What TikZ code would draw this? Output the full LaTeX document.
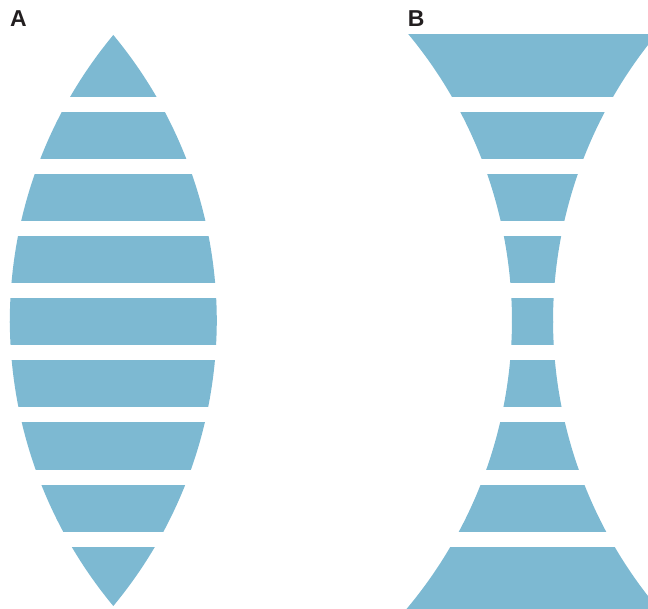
\documentclass[tikz,border=0pt]{standalone}
\usepackage{fontspec}
\setsansfont{Liberation Sans}
\usepackage{tikz}
\usepackage{xcolor}
\definecolor{lensblue}{RGB}{125,185,210}
\definecolor{labelgray}{RGB}{35,31,32}

\begin{document}
\begin{tikzpicture}[x=1pt,y=-1pt,
panel/.style={font=\sffamily\bfseries\fontsize{23}{23}\selectfont,text=labelgray,inner sep=0pt,anchor=base west},
band/.style={fill=lensblue}
]
\useasboundingbox (0,0) rectangle (648,609);
\clip (0,0) rectangle (648,609);
\node[panel] (labelA) at (10,26.7) {A};
\node[panel] (labelB) at (407.6,26.7) {B};
% A: convex lens, B: concave lens, both cut into bands (upper and lower half)
\foreach \ytop/\ybot in {35/97,113/159,175/221,237/283,299/345,361/407,423/469,485/531,547/609}{
  \foreach \ya/\yb/\cy in {0/322.5/322,321.5/620/319}{
    \begin{scope}
    \clip (0,\ytop) rectangle (648,\ybot);
    \clip (0,\ya) rectangle (648,\yb);
    \begin{scope}
    \clip (459.47,\cy) circle[radius=449.67pt];
    \fill[band] (-232.87,\cy) circle[radius=449.67pt];
    \end{scope}
    \begin{scope}
    \clip (300,0) rectangle (648,620);
    \fill[band,even odd rule] (290,-10) rectangle (700,630)
      (60.65,\cy) circle[radius=451.35pt] (1004.35,\cy) circle[radius=451.35pt];
    \end{scope}
    \end{scope}
  }
}
\end{tikzpicture}
\end{document}
